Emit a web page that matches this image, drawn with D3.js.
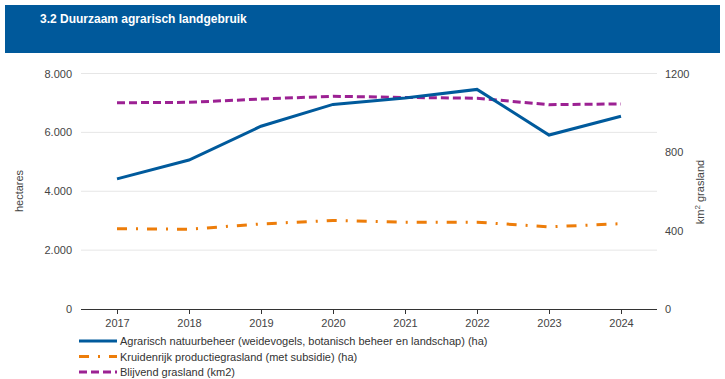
<!DOCTYPE html>
<html>
<head>
<meta charset="utf-8">
<script src="https://cdn.jsdelivr.net/npm/d3@7"></script>
<style>
  body { margin: 0; background: #fff; }
  svg { font-family: "Liberation Sans", Arial, sans-serif; }
</style>
</head>
<body>
<svg id="chart" width="725" height="379"></svg>
<script>
// years on the x axis
var years = ['2017', '2018', '2019', '2020', '2021', '2022', '2023', '2024'];

// series values
var natuurbeheer = [4420, 5060, 6210, 6950, 7170, 7460, 5910, 6550];   // ha, left axis
var kruidenrijk = [2730, 2710, 2890, 3010, 2950, 2950, 2790, 2900];    // ha, left axis
var blijvend = [1051, 1053, 1070, 1084, 1078, 1074, 1041, 1045];       // km2, right axis

// tick labels
var leftTicks = [0, 2000, 4000, 6000, 8000];
var rightTicks = [0, 400, 800, 1200];

var legendLabels = [
    'Agrarisch natuurbeheer (weidevogels, botanisch beheer en landschap) (ha)',
    'Kruidenrijk productiegrasland (met subsidie) (ha)',
    'Blijvend grasland (km2)'
];

var svg = d3.select('#chart');

// header band
svg.append('rect')
    .attr('x', 5).attr('y', 5)
    .attr('width', 715).attr('height', 48)
    .style('fill', '#00599b');
svg.append('text')
    .attr('x', 40).attr('y', 23)
    .style('fill', '#fff')
    .style('font-weight', 'bold')
    .style('font-size', '12px')
    .text('3.2 Duurzaam agrarisch landgebruik');

var plotLeft = 81, plotRight = 657, plotTop = 73.5, plotBottom = 309;

var x = d3.scalePoint().domain(years).range([plotLeft, plotRight]).padding(0.5);
var yL = d3.scaleLinear().domain([0, 8000]).range([plotBottom, plotTop]);
var yR = d3.scaleLinear().domain([0, 1200]).range([plotBottom, plotTop]);

var fmt = function(d) { return d3.format(',')(d).replace(/,/g, '.'); };

// gridlines
svg.append('g').selectAll('line')
    .data(leftTicks.filter(function(d) { return d > 0; }))
    .enter().append('line')
    .attr('x1', plotLeft).attr('x2', plotRight)
    .attr('y1', function(d) { return yL(d); })
    .attr('y2', function(d) { return yL(d); })
    .style('stroke', '#e6e6e6')
    .style('stroke-width', 1);

// left axis
var gL = svg.append('g')
    .attr('transform', 'translate(' + plotLeft + ',0)')
    .call(d3.axisLeft(yL).tickValues(leftTicks).tickFormat(fmt).tickSize(0).tickPadding(9));
gL.select('.domain').remove();
gL.selectAll('text').style('font-size', '11px').style('fill', '#444');

// right axis
var gR = svg.append('g')
    .attr('transform', 'translate(' + plotRight + ',0)')
    .call(d3.axisRight(yR).tickValues(rightTicks).tickFormat(d3.format('d')).tickSize(0).tickPadding(8));
gR.select('.domain').remove();
gR.selectAll('text').style('font-size', '11px').style('fill', '#444');

// x axis
var gX = svg.append('g')
    .attr('transform', 'translate(0,' + plotBottom + ')')
    .call(d3.axisBottom(x).tickSize(5).tickSizeOuter(0).tickPadding(5));
gX.select('.domain').attr('d', 'M' + plotLeft + ',0.5H' + plotRight).style('stroke', '#333');
gX.selectAll('.tick line').style('stroke', '#333');
gX.selectAll('text').style('font-size', '11px').style('fill', '#444');

// axis titles
svg.append('text')
    .attr('transform', 'translate(23,191) rotate(-90)')
    .attr('text-anchor', 'middle')
    .style('font-size', '11px').style('fill', '#444')
    .text('hectares');
var rt = svg.append('text')
    .attr('transform', 'translate(704,192) rotate(-90)')
    .attr('text-anchor', 'middle')
    .style('font-size', '11px').style('fill', '#444');
rt.append('tspan').text('km');
rt.append('tspan').attr('dy', -4).style('font-size', '8px').text('2');
rt.append('tspan').attr('dy', 4).text(' grasland');

// lines
var styles = [
    { color: '#005a9c', dash: null },
    { color: '#ed7d0a', dash: '10,9,2,9' },
    { color: '#9c2193', dash: '8,4' }
];

var lineL = d3.line().x(function(d, i) { return x(years[i]); }).y(function(d) { return yL(d); });
var lineR = d3.line().x(function(d, i) { return x(years[i]); }).y(function(d) { return yR(d); });

svg.append('path').datum(blijvend)
    .attr('d', lineR)
    .style('fill', 'none').style('stroke', styles[2].color)
    .style('stroke-width', 3).style('stroke-dasharray', styles[2].dash);
svg.append('path').datum(kruidenrijk)
    .attr('d', lineL)
    .style('fill', 'none').style('stroke', styles[1].color)
    .style('stroke-width', 3).style('stroke-dasharray', styles[1].dash);
svg.append('path').datum(natuurbeheer)
    .attr('d', lineL)
    .style('fill', 'none').style('stroke', styles[0].color)
    .style('stroke-width', 3);

// legend
var leg = svg.append('g').selectAll('g')
    .data(legendLabels)
    .enter().append('g')
    .attr('transform', function(d, i) { return 'translate(79,' + (341 + i * 15.5) + ')'; });
leg.append('line')
    .attr('x1', 0).attr('x2', 38)
    .style('stroke', function(d, i) { return styles[i].color; })
    .style('stroke-width', 3)
    .style('stroke-dasharray', function(d, i) { return styles[i].dash; });
leg.append('text')
    .attr('x', 41).attr('y', 4)
    .style('font-size', '11px').style('fill', '#333')
    .text(function(d) { return d; });
</script>
</body>
</html>
